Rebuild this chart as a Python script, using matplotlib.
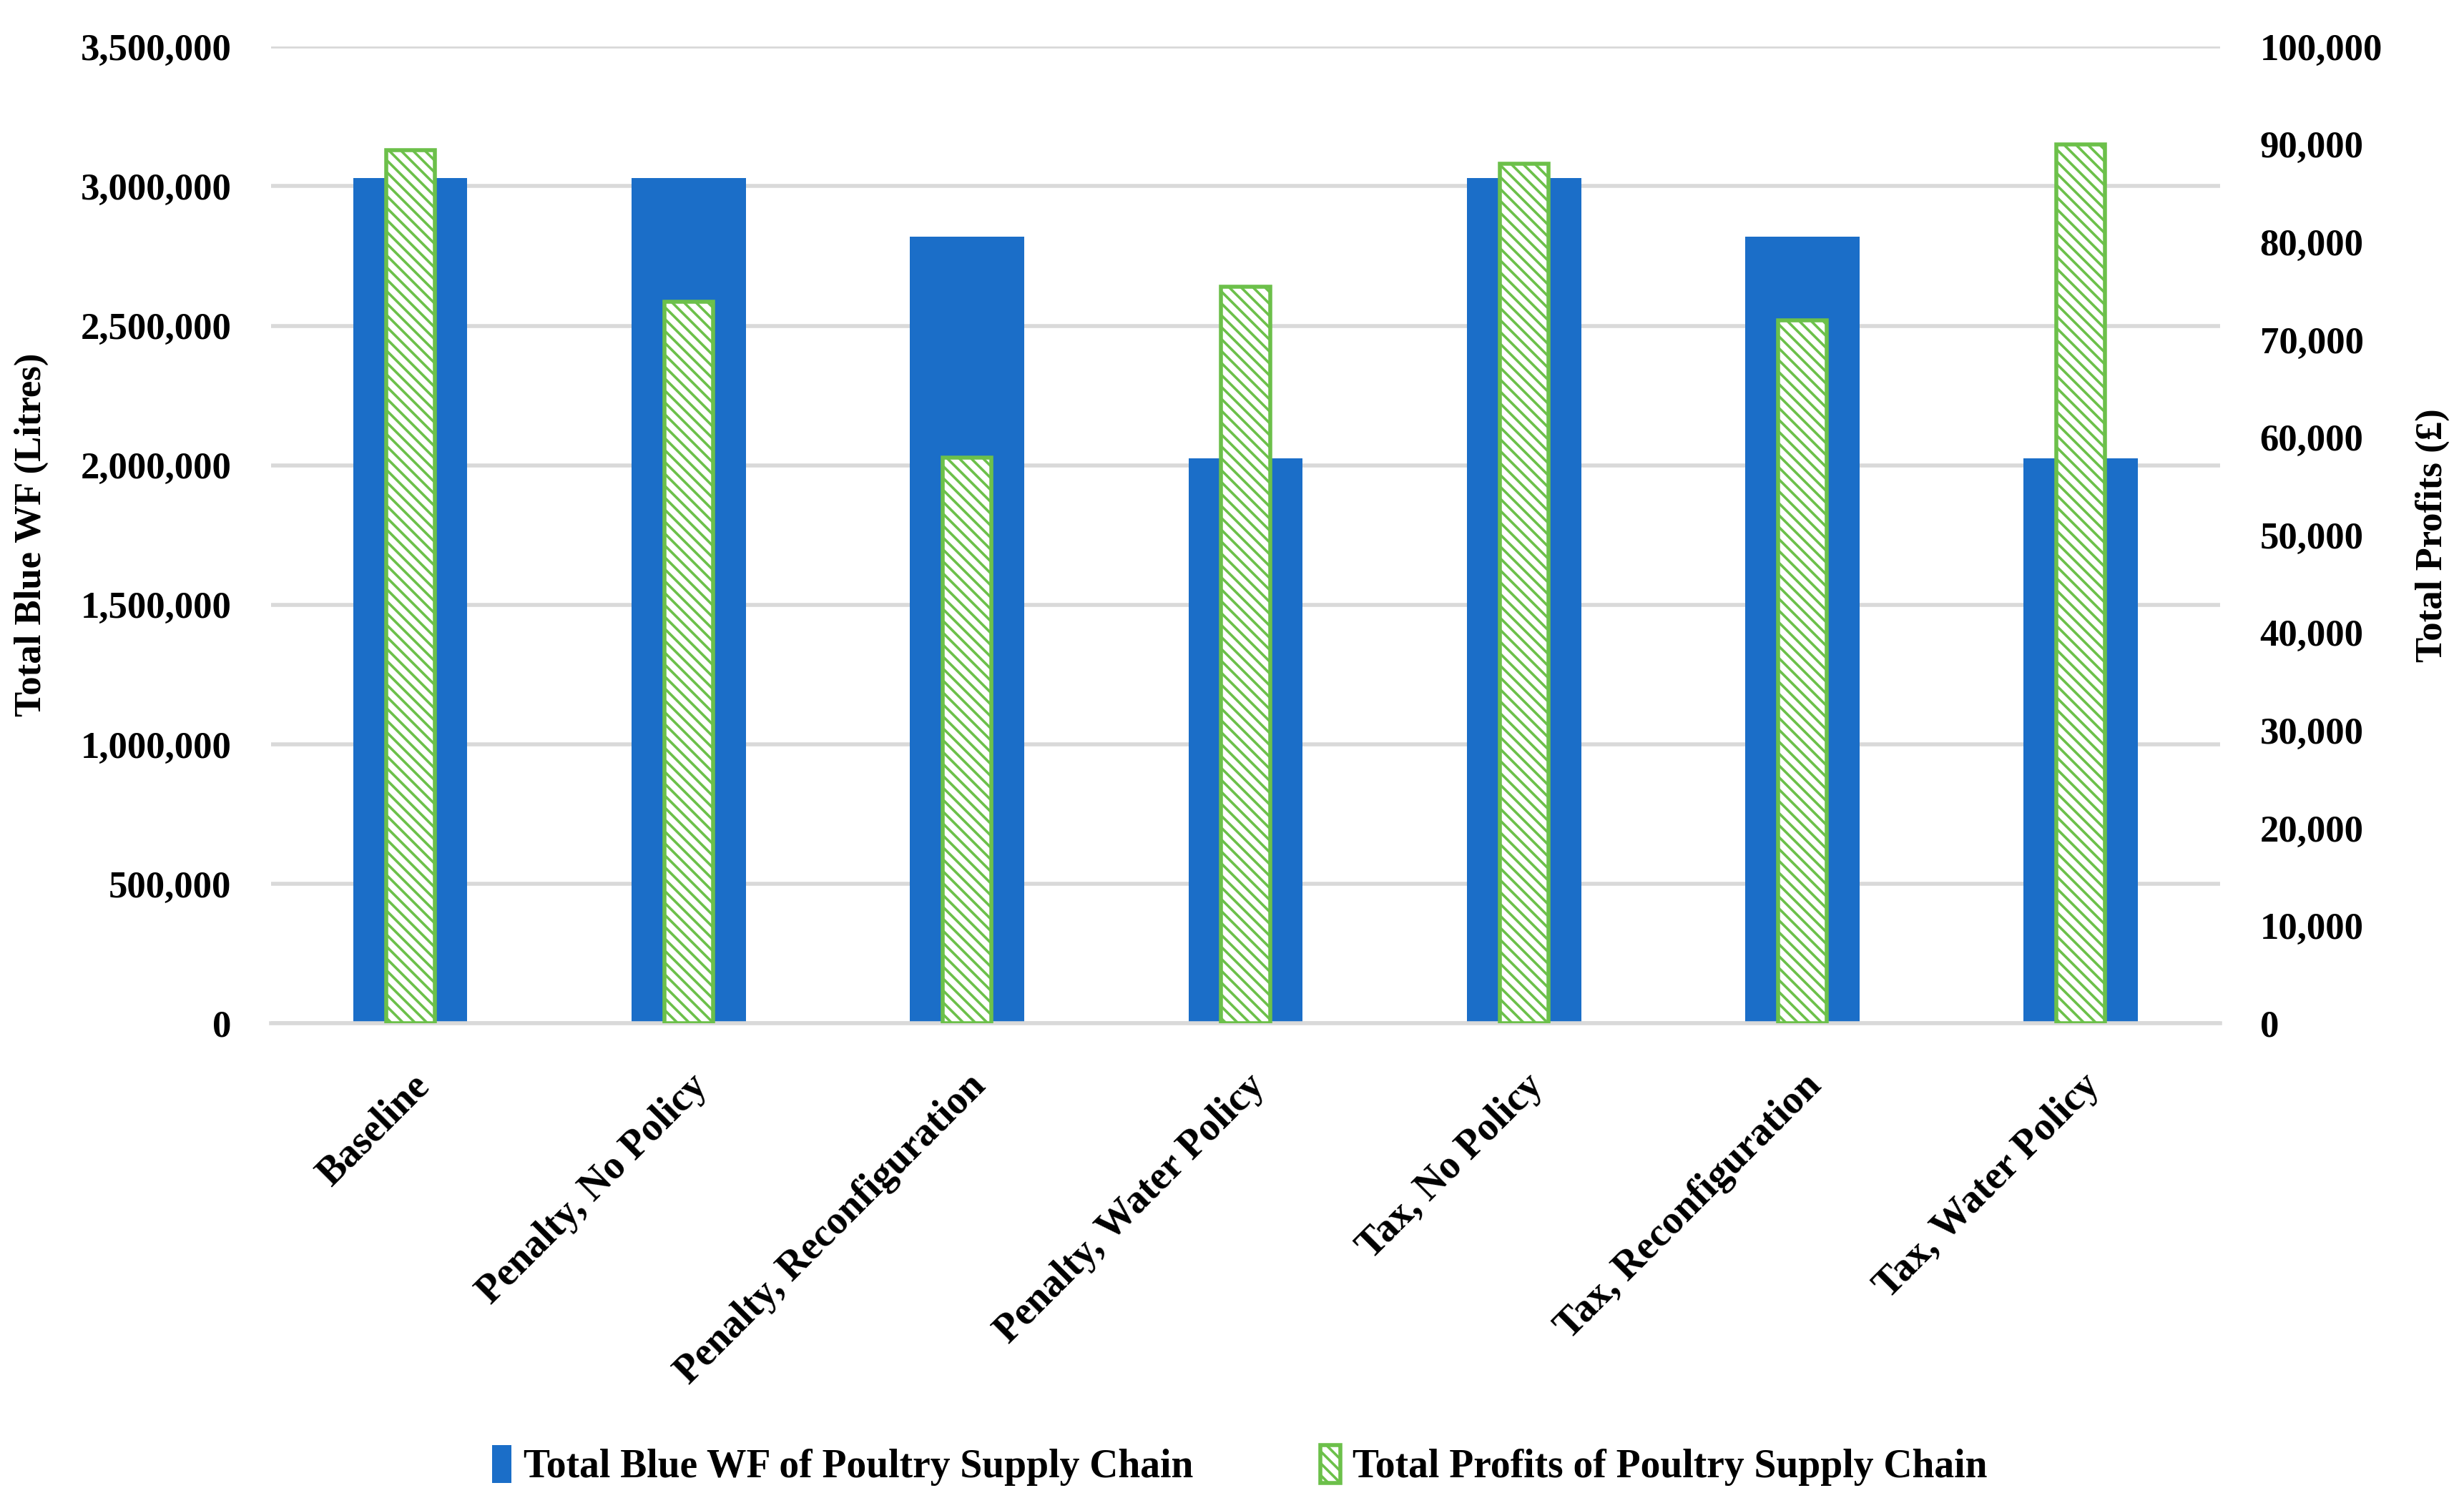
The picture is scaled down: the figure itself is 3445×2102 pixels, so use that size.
import matplotlib.pyplot as plt
import numpy as np
from matplotlib.ticker import FuncFormatter

# data
scenarios = ["Baseline", "Penalty, No Policy", "Penalty, Reconfiguration",
             "Penalty, Water Policy", "Tax, No Policy", "Tax, Reconfiguration",
             "Tax, Water Policy"]
blue_wf = [3030000, 3030000, 2820000, 2025000, 3030000, 2820000, 2025000]
profits = [89400, 73900, 57900, 75400, 88000, 72000, 90000]

blue = "#1b6ec8"
green = "#6cc04a"
grid_col = "#d9d9d9"

plt.rcParams['font.family'] = ['Liberation Serif', 'DejaVu Serif']
plt.rcParams['font.weight'] = 'bold'
plt.rcParams['hatch.linewidth'] = 1.3
plt.rcParams['hatch.color'] = green

fig = plt.figure(figsize=(17.225, 10.51), dpi=200)
ax = fig.add_axes([0.110, 0.319, 0.791, 0.650])
ax2 = ax.twinx()

x = np.arange(len(scenarios))
ax.bar(x, blue_wf, width=0.41, color=blue, zorder=2,
       label="Total Blue WF of Poultry Supply Chain")
ax2.bar(x, profits, width=0.175, facecolor="white", edgecolor=green,
        linewidth=2.0, hatch="\\\\\\\\", zorder=3,
        label="Total Profits of Poultry Supply Chain")

ax.set_xlim(-0.5, len(scenarios) - 0.5)
ax.set_ylim(0, 3500000)
ax2.set_ylim(0, 100000)
ax.set_yticks(np.arange(0, 3500001, 500000))
ax2.set_yticks(np.arange(0, 100001, 10000))
fmt = FuncFormatter(lambda v, p: f"{int(v):,}")
ax.yaxis.set_major_formatter(fmt)
ax2.yaxis.set_major_formatter(fmt)

ax.yaxis.grid(True, color=grid_col, linewidth=2.0, zorder=0)
ax.set_axisbelow(True)
for a in (ax, ax2):
    for s in a.spines.values():
        s.set_visible(False)
    a.tick_params(length=0, labelsize=19)
ax.spines['bottom'].set_visible(True)
ax.spines['bottom'].set_color(grid_col)
ax.spines['bottom'].set_linewidth(2.0)
ax.tick_params(axis='y', pad=20)
ax2.tick_params(axis='y', pad=20)

ax.set_xticks(x)
ax.set_xticklabels(scenarios, rotation=45, ha='right', rotation_mode='anchor',
                   fontsize=20, fontweight='bold')
ax.tick_params(axis='x', pad=22)

ax.set_ylabel("Total Blue WF (Litres)", fontsize=19, fontweight='bold')
ax.yaxis.set_label_coords(-0.114, 0.5)
ax2.set_ylabel("Total Profits (£)", fontsize=19, fontweight='bold')
ax2.yaxis.set_label_coords(1.1, 0.5)

h1, l1 = ax.get_legend_handles_labels()
h2, l2 = ax2.get_legend_handles_labels()
fig.legend(h1 + h2, l1 + l2, loc='center', bbox_to_anchor=(0.503, 0.025),
           ncol=2, frameon=False, fontsize=20, handlelength=0.5,
           handleheight=1.1, handletextpad=0.3, columnspacing=3.2)

plt.savefig("out.png", dpi=200)
